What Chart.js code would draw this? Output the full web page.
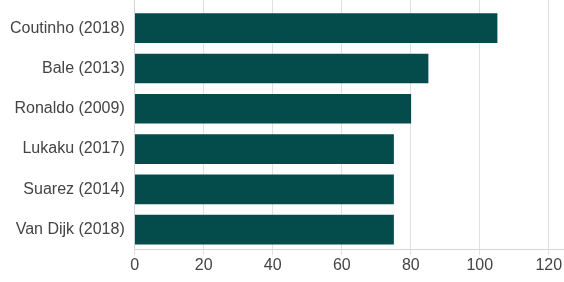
<!DOCTYPE html>
<html>
<head>
<meta charset="utf-8">
<script src="https://cdn.jsdelivr.net/npm/chart.js@4"></script>
<style>
  html, body { margin: 0; padding: 0; background: #fff; }
  #wrap { width: 564px; height: 282px; }
</style>
</head>
<body>
<div id="wrap"><canvas id="myChart"></canvas></div>
<script>
// Transfer fees in millions
const players = ['Coutinho (2018)', 'Bale (2013)', 'Ronaldo (2009)', 'Lukaku (2017)', 'Suarez (2014)', 'Van Dijk (2018)'];
const fees = [105, 85, 80, 75, 75, 75];
const xTicks = [0, 20, 40, 60, 80, 100, 120];

const barColor = '#044b4b';
const gridColor = '#e0e0e0';
const textColor = '#444444';

// bars sit on a linear index axis so there is a bit of room above the first one
const points = fees.map((v, i) => ({ x: v, y: i }));

const myChart = new Chart(document.getElementById('myChart'), {
    type: 'bar',
    data: {
        datasets: [{
            data: points,
            backgroundColor: barColor,
            borderWidth: 0,
            barThickness: 29
        }]
    },
    options: {
        indexAxis: 'y',
        responsive: true,
        maintainAspectRatio: false,
        animation: false,
        layout: { padding: { left: 0, top: 0, right: 0, bottom: 6 } },
        plugins: {
            legend: { display: false },
            tooltip: { enabled: false }
        },
        scales: {
            x: {
                type: 'linear',
                min: 0,
                max: 124.4,
                afterBuildTicks: function(axis) {
                    axis.ticks = xTicks.map(v => ({ value: v }));
                },
                grid: { color: gridColor, tickLength: 5 },
                border: { color: '#d6d6d6' },
                ticks: {
                    color: textColor,
                    padding: 1,
                    font: { family: 'Liberation Sans', size: 16 }
                }
            },
            y: {
                type: 'linear',
                reverse: true,
                offset: false,
                min: -0.7,
                max: 5.5,
                afterBuildTicks: function(axis) {
                    axis.ticks = players.map((p, i) => ({ value: i }));
                },
                // labels sit well inside the area, so no extra room at top/bottom
                afterFit: function(axis) {
                    axis.paddingTop = 0;
                    axis.paddingBottom = 0;
                },
                grid: { display: false, drawTicks: false, offset: false },
                border: { display: true, color: '#d6d6d6' },
                ticks: {
                    autoSkip: false,
                    color: textColor,
                    padding: 10,
                    font: { family: 'Liberation Sans', size: 16 },
                    callback: function(value) {
                        return players[value];
                    }
                }
            }
        }
    }
});
</script>
</body>
</html>
